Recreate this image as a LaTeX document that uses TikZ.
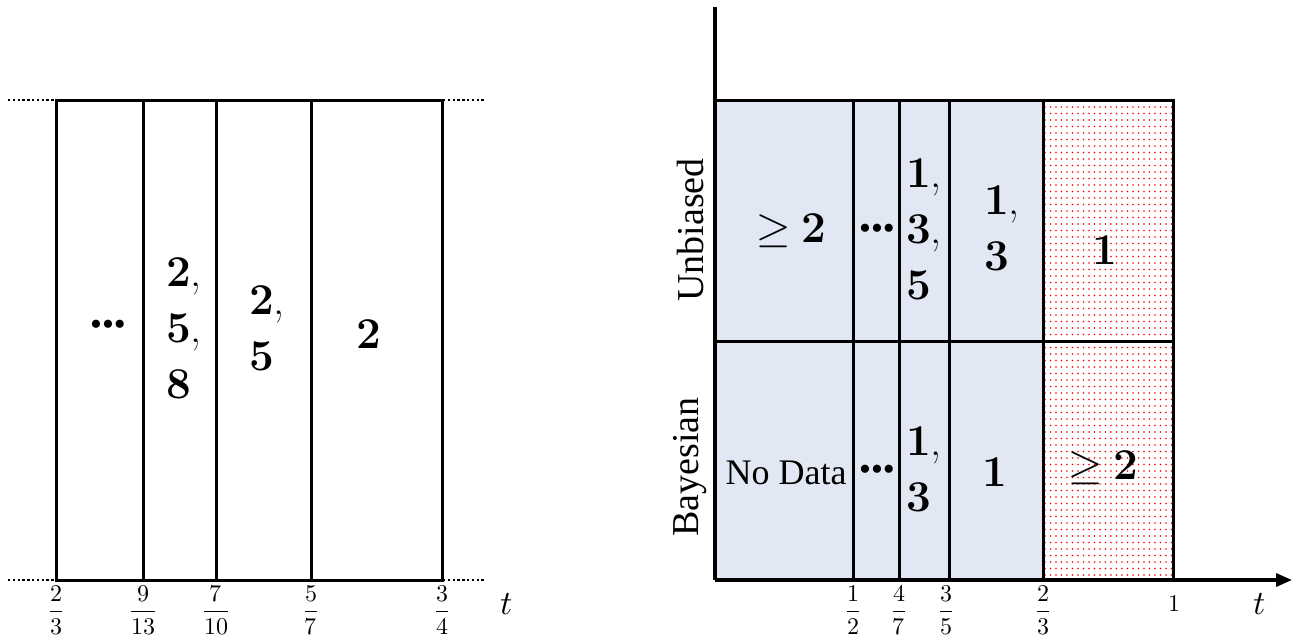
\documentclass[tikz,border=0pt]{standalone}
\usepackage{fontspec}
\usepackage{amsmath}
\usepackage{unicode-math}
\setmainfont{Liberation Serif}
\setmathfont{Latin Modern Math}
\newfontfamily\digfont{Latin Modern Roman}
\usetikzlibrary{arrows.meta,patterns.meta}
\tikzdeclarepattern{
  name=reddots,
  type=uncolored,
  bottom left={(-1pt,-1pt)},
  top right={(1pt,1pt)},
  tile size={(5.5pt,6.5pt)},
  code={\pgfpathcircle{\pgfpointorigin}{0.85pt}\pgfusepath{fill}}
}
\definecolor{cellblue}{RGB}{225,231,243}
\tikzset{
  frame/.style={line width=3pt, line join=miter},
  dotline/.style={line width=2.4pt, dash pattern=on 2.4pt off 2.4pt},
  big/.style={font=\fontsize{44}{56}\selectfont, inner sep=0pt, align=left},
  frac/.style={font=\fontsize{24}{30}\selectfont, inner sep=0pt},
  tlab/.style={font=\fontsize{34}{36}\selectfont, inner sep=0pt},
  side/.style={font=\fontsize{38}{40}\selectfont, inner sep=0pt, rotate=90},
  nodata/.style={font=\fontsize{36}{40}\selectfont, inner sep=0pt},
  dots/.style={font=\fontsize{34}{40}\selectfont, inner sep=0pt}
}
\newcommand{\bd}[1]{{\digfont\bfseries #1}}
\newcommand{\cm}{{\digfont ,}}
\newcommand{\ddd}{•••}
\begin{document}
\begin{tikzpicture}[x=1pt,y=-1pt]
\useasboundingbox (0,0) rectangle (1298,640);
% ---------------- left panel
\draw[frame] (56,100) rectangle (442,580);
\draw[frame] (143,100) -- (143,580);
\draw[frame] (216,100) -- (216,580);
\draw[frame] (311,100) -- (311,580);
\coordinate (dl1) at (8,100); \coordinate (dl2) at (8,580);
\coordinate (dr1) at (486,100); \coordinate (dr2) at (486,580);
\draw[dotline] (dl1) -- (55,100);
\draw[dotline] (dl2) -- (55,580);
\draw[dotline] (443,100) -- (dr1);
\draw[dotline] (443,580) -- (dr2);
\node[dots] (ld) at (108,328) {\ddd};
\node[big, anchor=west] (l258) at (166,328) {\bd{2}\cm\\\bd{5}\cm\\\bd{8}};
\node[big, anchor=west] (l25) at (249,328) {\bd{2}\cm\\\bd{5}};
\node[big] (l2) at (369,334) {\bd{2}};
\node[frac] (f1) at (56,610) {$\dfrac{2}{3}$};
\node[frac] (f2) at (143,610) {$\dfrac{9}{13}$};
\node[frac] (f3) at (216,610) {$\dfrac{7}{10}$};
\node[frac] (f4) at (311,610) {$\dfrac{5}{7}$};
\node[frac] (f5) at (442,610) {$\dfrac{3}{4}$};
\node[tlab] (tl) at (507,604) {$t$};
% ---------------- right panel
\fill[cellblue] (715,100) rectangle (1043,580);
\fill[white] (1043,100) rectangle (1173,580);
\fill[pattern=reddots, pattern color=red] (1043,100) rectangle (1173,580);
\draw[frame] (715,100) -- (1173,100) -- (1173,580);
\draw[frame] (715,341) -- (1173,341);
\draw[frame] (853,100) -- (853,580);
\draw[frame] (899,100) -- (899,580);
\draw[frame] (949,100) -- (949,580);
\draw[frame] (1043,100) -- (1043,580);
\coordinate (O) at (715,580);
\coordinate (ytop) at (715,7);
\coordinate (xend) at (1292,580);
\draw[line width=3.4pt] (ytop) -- (O);
\draw[line width=3.4pt, -{Triangle[length=16pt,width=13pt]}] (O) -- (xend);
\node[side] (ub) at (690,230) {Unbiased};
\node[side] (by) at (690,467) {Bayesian};
% top row
\node[big] (tge) at (791,231) {$\geq$ \bd{2}};
\node[dots] (tdd) at (877,232) {\ddd};
\node[big, anchor=west] (t135) at (906,229) {\bd{1}\cm\\\bd{3}\cm\\\bd{5}};
\node[big, anchor=west] (t13) at (984,228) {\bd{1}\cm\\\bd{3}};
\node[big] (t1) at (1105,250) {\bd{1}};
% bottom row
\node[nodata] (nd) at (786,473) {No Data};
\node[dots] (bdd) at (877,473) {\ddd};
\node[big, anchor=west] (b13) at (906,469) {\bd{1}\cm\\\bd{3}};
\node[big] (b1) at (995,472) {\bd{1}};
\node[big] (bge) at (1103,468) {$\geq$ \bd{2}};
% ticks
\node[frac] (g1) at (853,610) {$\dfrac{1}{2}$};
\node[frac] (g2) at (899,610) {$\dfrac{4}{7}$};
\node[frac] (g3) at (946,610) {$\dfrac{3}{5}$};
\node[frac] (g4) at (1043,610) {$\dfrac{2}{3}$};
\node[frac] (g5) at (1174,603) {$1$};
\node[tlab] (tr) at (1260,604) {$t$};
\end{tikzpicture}
\end{document}
